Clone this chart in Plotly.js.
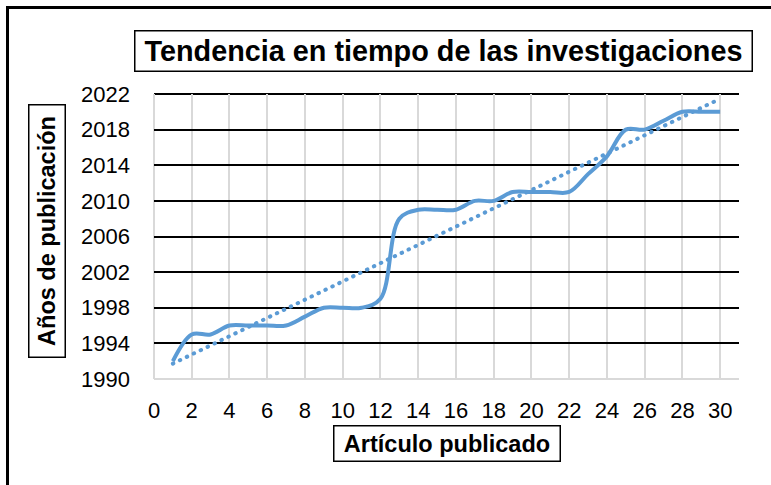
<!DOCTYPE html>
<html>
<head>
<meta charset="utf-8">
<script src="https://cdn.plot.ly/plotly-3.0.1.min.js"></script>
<style>
  html, body { margin: 0; padding: 0; background: #fff; }
  #wrap { position: relative; width: 771px; height: 485px; overflow: hidden; }
  #chart { position: absolute; left: 0; top: 0; width: 771px; height: 485px; }
  #frame { position: absolute; left: 6px; top: 6px; width: 900px; height: 600px;
           border-left: 3px solid #000; border-top: 3px solid #000; pointer-events: none; }
</style>
</head>
<body>
<div id="wrap">
  <div id="chart"></div>
  <div id="frame"></div>
</div>
<script>
// ---- data ----
const articulos = [1,2,3,4,5,6,7,8,9,10,11,12,13,14,15,16,17,18,19,20,21,22,23,24,25,26,27,28,29,30];
const anios = [1992,1995,1995,1996,1996,1996,1996,1997,1998,1998,1998,1999,2008,2009,2009,2009,2010,2010,2011,2011,2011,2011,2013,2015,2018,2018,2019,2020,2020,2020];
const xTickLabels = [0,2,4,6,8,10,12,14,16,18,20,22,24,26,28,30];
const yTickLabels = [1990,1994,1998,2002,2006,2010,2014,2018,2022];
const chartTitle = "Tendencia en tiempo de las investigaciones";
const xTitle = "Artículo publicado";
const yTitle = "Años de publicación";

// linear trend line (least squares, as the spreadsheet trendline does)
const n = articulos.length;
const mx = articulos.reduce((a,b)=>a+b,0)/n;
const my = anios.reduce((a,b)=>a+b,0)/n;
let sxy = 0, sxx = 0;
for (let i = 0; i < n; i++) { sxy += (articulos[i]-mx)*(anios[i]-my); sxx += (articulos[i]-mx)**2; }
const slope = sxy/sxx, icpt = my - slope*mx;
const trendX = [articulos[0], articulos[n-1]];
const trendY = trendX.map(x => icpt + slope*x);

const FONT = "Liberation Sans, Arial, sans-serif";
const BLUE = "#5B9BD5";

const traces = [
  { x: trendX, y: trendY, type: "scatter", mode: "lines",
    line: { color: BLUE, width: 4, dash: "0.5px,7.2px" }, hoverinfo: "skip", showlegend: false },
  { x: articulos, y: anios, type: "scatter", mode: "lines",
    line: { color: BLUE, width: 4, shape: "spline", smoothing: 1 }, showlegend: false }
];

const layout = {
  width: 771, height: 485,
  margin: { l: 154, r: 32, t: 94, b: 106, pad: 0 },
  paper_bgcolor: "#fff", plot_bgcolor: "#fff",
  font: { family: FONT, color: "#000", size: 22 },
  showlegend: false,
  xaxis: {
    range: [0, 31], tickmode: "array", tickvals: xTickLabels, ticktext: xTickLabels.map(String),
    showgrid: true, gridcolor: "#d9d9d9", gridwidth: 2, zeroline: false,
    showline: false, ticks: "", ticklabelstandoff: 16,
    tickfont: { family: FONT, size: 22, color: "#000" }
  },
  yaxis: {
    range: [1990, 2022], tickmode: "array", tickvals: yTickLabels, ticktext: yTickLabels.map(String),
    showgrid: true, gridcolor: "#000", gridwidth: 2, zeroline: false,
    showline: false, ticks: "", ticklabelstandoff: 23,
    tickfont: { family: FONT, size: 22, color: "#000" }
  },
  shapes: [
    { type: "line", xref: "paper", yref: "paper", x0: 0, x1: 1, y0: 1, y1: 1, line: { color: "#000", width: 2 }, layer: "below" },
    { type: "line", xref: "paper", yref: "paper", x0: 0, x1: 0, y0: 0, y1: 1, line: { color: "#d9d9d9", width: 2 }, layer: "below" },
    { type: "line", xref: "paper", yref: "paper", x0: 0, x1: 1, y0: 0, y1: 0, line: { color: "#d9d9d9", width: 2 }, layer: "below" }
  ],
  annotations: [
    { text: "<b>" + chartTitle + "</b>", xref: "paper", yref: "paper",
      x: (443-154)/585, y: (379-51.5)/285, xanchor: "center", yanchor: "middle",
      showarrow: false, font: { family: FONT, size: 28.8, color: "#000" },
      width: 614, height: 37, borderpad: 1, bordercolor: "#000", borderwidth: 1.5, bgcolor: "#fff" },
    { text: "<b>" + xTitle + "</b>", xref: "paper", yref: "paper",
      x: 0.5, y: (379-443)/285, xanchor: "center", yanchor: "middle",
      showarrow: false, font: { family: FONT, size: 23.5, color: "#000" },
      width: 223, height: 32, borderpad: 1, bordercolor: "#000", borderwidth: 1.5, bgcolor: "#fff" },
    { text: "<b>" + yTitle + "</b>", xref: "paper", yref: "paper",
      x: (46.5-154)/585, y: (379-230.5)/285, xanchor: "center", yanchor: "middle",
      showarrow: false, textangle: -90, font: { family: FONT, size: 23.5, color: "#000" },
      width: 249, height: 33, borderpad: 1, bordercolor: "#000", borderwidth: 1.5, bgcolor: "#fff" }
  ]
};

Plotly.newPlot("chart", traces, layout, { staticPlot: true, displayModeBar: false }).then(gd => {
  // round caps so the dotted trend line shows round dots
  const paths = gd.querySelectorAll(".scatterlayer .trace path.js-line");
  if (paths.length) paths[0].style.strokeLinecap = "round";
});
</script>
</body>
</html>
